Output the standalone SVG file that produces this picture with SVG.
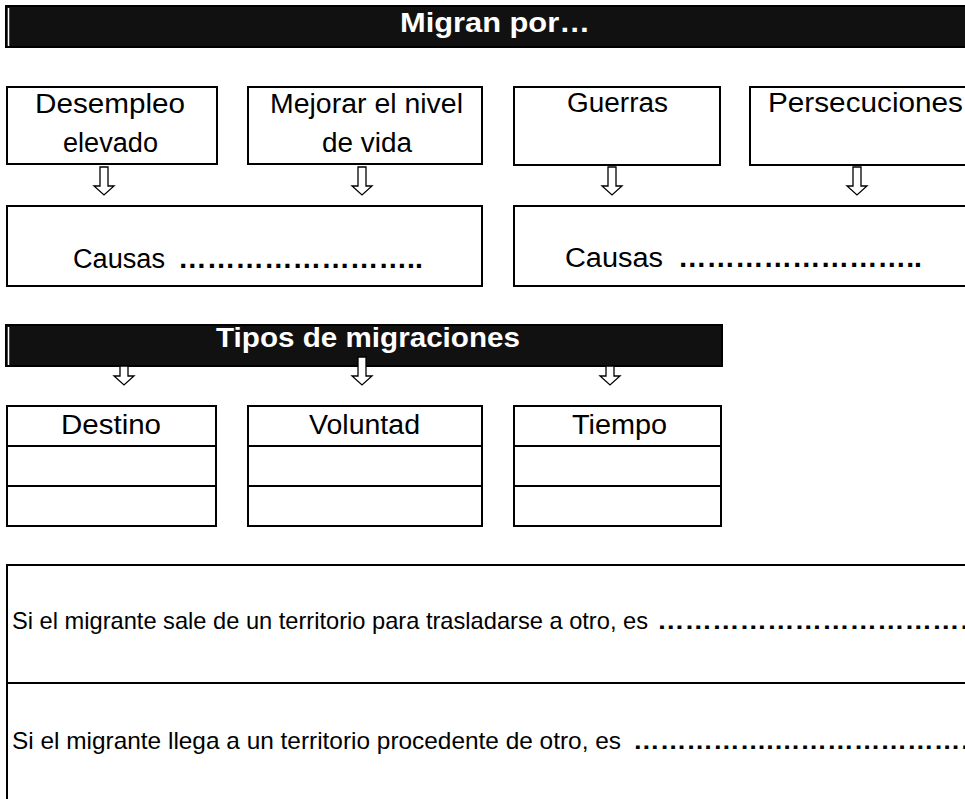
<svg xmlns="http://www.w3.org/2000/svg" width="965" height="799" viewBox="0 0 965 799">
<style>
.box{fill:#fff;stroke:#000;stroke-width:2}
.bar{fill:#111;stroke:#000;stroke-width:2}
.t{font-family:"Liberation Sans",Arial,sans-serif;font-size:27px;fill:#000}
.s{font-family:"Liberation Sans",Arial,sans-serif;font-size:24px;fill:#000}
.h{font-family:"Liberation Sans",Arial,sans-serif;font-size:27px;font-weight:bold;fill:#fff}
.d{font-weight:bold}
.arr{fill:#fff;stroke:#000;stroke-width:1.3;stroke-linejoin:miter}
</style>
<defs>
<path id="a" class="arr" d="M-4,0 L4,0 L4,19 L10,19 L0,28 L-10,19 L-4,19 Z"/>
<path id="a2" class="arr" d="M-4,0 L4,0 L4,10 L10,10 L0,19 L-10,10 L-4,10 Z"/>
</defs>

<g id="bar-migran">
<rect class="bar" x="6" y="6" width="965" height="41"/>
<line x1="8.5" y1="8" x2="8.5" y2="46" stroke="#fff" stroke-width="1.5"/>
<text class="h" x="400" y="32" textLength="190" lengthAdjust="spacingAndGlyphs">Migran por…</text>
</g>

<g id="desempleo">
<rect class="box" x="7" y="87" width="210" height="77"/>
<text class="t" x="35" y="113" textLength="150" lengthAdjust="spacingAndGlyphs">Desempleo</text>
<text class="t" x="63" y="152" textLength="95" lengthAdjust="spacingAndGlyphs">elevado</text>
</g>
<g id="mejorar">
<rect class="box" x="248" y="87" width="234" height="77"/>
<text class="t" x="270" y="113" textLength="193" lengthAdjust="spacingAndGlyphs">Mejorar  el nivel</text>
<text class="t" x="322" y="152" textLength="90" lengthAdjust="spacingAndGlyphs">de vida</text>
</g>
<g id="guerras">
<rect class="box" x="514" y="87" width="206" height="78"/>
<text class="t" x="567" y="112" textLength="101" lengthAdjust="spacingAndGlyphs">Guerras</text>
</g>
<g id="persecuciones">
<rect class="box" x="750" y="87" width="260" height="78"/>
<text class="t" x="768" y="112" textLength="195" lengthAdjust="spacingAndGlyphs">Persecuciones</text>
</g>
<g id="causas-1">
<rect class="box" x="7" y="206" width="475" height="80"/>
<text class="t" x="73" y="268" textLength="92" lengthAdjust="spacingAndGlyphs">Causas</text>
<text class="t d" x="178" y="268" textLength="245" lengthAdjust="spacingAndGlyphs">……………………..</text>
</g>
<g id="causas-2">
<rect class="box" x="514" y="206" width="500" height="80"/>
<text class="t" x="565" y="267" textLength="98" lengthAdjust="spacingAndGlyphs">Causas</text>
<text class="t d" x="678" y="267" textLength="244" lengthAdjust="spacingAndGlyphs">……………………..</text>
</g>

<g id="bar-tipos">
<rect class="bar" x="6" y="325" width="716" height="41"/>
<line x1="8.5" y1="327" x2="8.5" y2="365" stroke="#fff" stroke-width="1.5"/>
<text class="h" x="216" y="347" textLength="304" lengthAdjust="spacingAndGlyphs">Tipos de migraciones</text>
</g>

<g id="destino">
<rect class="box" x="7" y="406" width="209" height="120"/>
<line x1="7" y1="446" x2="216" y2="446" stroke="#000" stroke-width="2"/>
<line x1="7" y1="486" x2="216" y2="486" stroke="#000" stroke-width="2"/>
<text class="t" x="61" y="434" textLength="100" lengthAdjust="spacingAndGlyphs">Destino</text>
</g>
<g id="voluntad">
<rect class="box" x="248" y="406" width="234" height="120"/>
<line x1="248" y1="446" x2="482" y2="446" stroke="#000" stroke-width="2"/>
<line x1="248" y1="486" x2="482" y2="486" stroke="#000" stroke-width="2"/>
<text class="t" x="309" y="434" textLength="111" lengthAdjust="spacingAndGlyphs">Voluntad</text>
</g>
<g id="tiempo">
<rect class="box" x="514" y="406" width="207" height="120"/>
<line x1="514" y1="446" x2="721" y2="446" stroke="#000" stroke-width="2"/>
<line x1="514" y1="486" x2="721" y2="486" stroke="#000" stroke-width="2"/>
<text class="t" x="572" y="434" textLength="95" lengthAdjust="spacingAndGlyphs">Tiempo</text>
</g>

<g id="definiciones">
<rect class="box" x="7" y="565" width="1000" height="300"/>
<line x1="7" y1="683" x2="1000" y2="683" stroke="#000" stroke-width="2"/>
<text class="s" x="12" y="629" textLength="636" lengthAdjust="spacingAndGlyphs">Si el migrante sale de un territorio para trasladarse a otro, es</text>
<text class="s d" x="657" y="629" textLength="330" lengthAdjust="spacingAndGlyphs">………………………………</text>
<text class="s" x="12" y="749" textLength="609" lengthAdjust="spacingAndGlyphs">Si el migrante llega a un territorio procedente de otro, es</text>
<text class="s d" x="633" y="749" textLength="354" lengthAdjust="spacingAndGlyphs">…………….……………………</text>
</g>

<g id="connectors">
<use href="#a" x="104" y="167"/>
<use href="#a" x="362" y="167"/>
<use href="#a" x="612" y="167"/>
<use href="#a" x="857" y="167"/>
<use href="#a2" x="124" y="366"/>
<use href="#a" x="362" y="357"/>
<use href="#a2" x="610" y="366"/>
</g>
</svg>
